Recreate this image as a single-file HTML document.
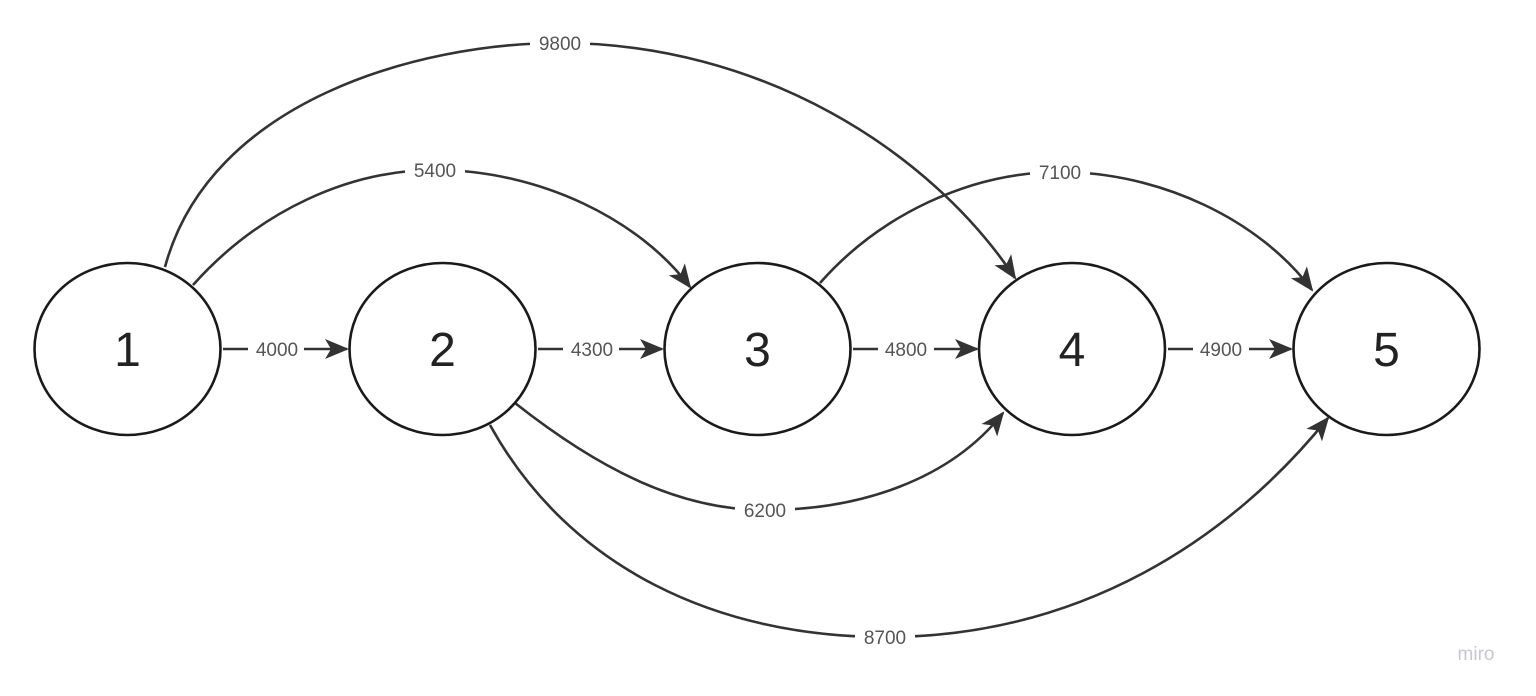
<!DOCTYPE html>
<html><head><style>
html,body{margin:0;padding:0;background:#fff;}
svg{display:block;}
text{font-family:"Liberation Sans",sans-serif;}
</style></head><body>
<svg width="1536" height="696" viewBox="0 0 1536 696" xmlns="http://www.w3.org/2000/svg">
<defs>
<marker id="a" markerWidth="10" markerHeight="10" refX="8" refY="5" orient="auto" markerUnits="userSpaceOnUse" viewBox="0 0 10 10" style="overflow:visible">
<path d="M-14,-5 L10,5 L-14,15 L-8,5 Z" fill="#333"/>
</marker>
</defs>
<g fill="none" stroke="#333" stroke-width="2.6" marker-end="url(#a)">
<path d="M165,267 C210,100 420,43 560,43 C760,43 930,150 1015,278"/>
<path d="M193,285 C260,210 350,170 435,170 C540,170 640,220 690,287"/>
<path d="M820,283 C880,215 970,172 1060,172 C1160,172 1260,220 1312,290"/>
<path d="M515,403 C600,470 680,510 765,510 C860,510 950,480 1003,413"/>
<path d="M490,425 C570,570 720,637 885,637 C1080,637 1230,540 1328,418"/>
<path d="M223,349 L347,349"/>
<path d="M538,349 L662,349"/>
<path d="M853,349 L977,349"/>
<path d="M1168,349 L1291,349"/>
</g>
<g fill="#fff" stroke="none">
<rect x="530" y="32" width="60" height="22"/>
<rect x="405" y="159" width="60" height="22"/>
<rect x="1030" y="161" width="60" height="22"/>
<rect x="735" y="499" width="60" height="22"/>
<rect x="855" y="626" width="60" height="22"/>
<rect x="248" y="338" width="56" height="22"/>
<rect x="563" y="338" width="56" height="22"/>
<rect x="878" y="338" width="56" height="22"/>
<rect x="1193" y="338" width="56" height="22"/>
</g>
<g font-size="19" fill="#555" text-anchor="middle">
<text x="560" y="50">9800</text>
<text x="435" y="177">5400</text>
<text x="1060" y="179">7100</text>
<text x="765" y="517">6200</text>
<text x="885" y="644">8700</text>
<text x="277" y="356">4000</text>
<text x="592" y="356">4300</text>
<text x="906" y="356">4800</text>
<text x="1221" y="356">4900</text>
</g>
<g fill="#fff" stroke="#1a1a1a" stroke-width="2.6">
<ellipse cx="127.5" cy="349" rx="93" ry="86"/>
<ellipse cx="442.5" cy="349" rx="93" ry="86"/>
<ellipse cx="757.5" cy="349" rx="93" ry="86"/>
<ellipse cx="1072" cy="349" rx="93" ry="86"/>
<ellipse cx="1386.5" cy="349" rx="93" ry="86"/>
</g>
<g font-size="48" fill="#222" text-anchor="middle">
<text x="127.5" y="366">1</text>
<text x="442.5" y="366">2</text>
<text x="757.5" y="366">3</text>
<text x="1072" y="366">4</text>
<text x="1386.5" y="366">5</text>
</g>
<text x="1476" y="660" font-size="19" fill="#c8c8cc" text-anchor="middle">miro</text>
</svg>
</body></html>
